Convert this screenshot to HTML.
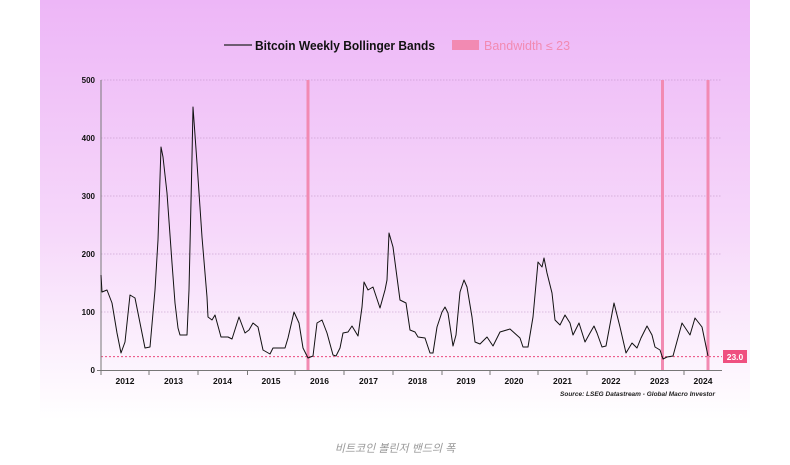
<!DOCTYPE html>
<html><head><meta charset="utf-8"><style>
html,body{margin:0;padding:0;width:790px;height:465px;background:#fff;overflow:hidden}
</style></head><body>
<svg width="790" height="465" xmlns="http://www.w3.org/2000/svg" font-family="Liberation Sans, sans-serif">
<defs><linearGradient id="bg" x1="0" y1="0" x2="0" y2="1">
<stop offset="0" stop-color="#edb6f7"/><stop offset="0.55" stop-color="#f6d8fa"/><stop offset="1" stop-color="#ffffff"/></linearGradient></defs>
<rect x="0" y="0" width="790" height="465" fill="#fff"/>
<rect x="40" y="0" width="710" height="420" fill="url(#bg)"/>
<!-- legend -->
<line x1="224" y1="45" x2="252" y2="45" stroke="#222" stroke-width="1.2"/>
<text x="255" y="50" font-size="12.5" font-weight="bold" fill="#111" textLength="180" lengthAdjust="spacingAndGlyphs">Bitcoin Weekly Bollinger Bands</text>
<rect x="452" y="40" width="27" height="10" fill="#f28ab2"/>
<text x="484" y="50" font-size="12.5" fill="#f28ab2">Bandwidth ≤ 23</text>
<!-- grid -->
<g stroke="#b88cc0" stroke-width="0.6" stroke-dasharray="1.5,1.5">
<line x1="101" y1="80" x2="722" y2="80"/><line x1="101" y1="138" x2="722" y2="138"/>
<line x1="101" y1="196" x2="722" y2="196"/><line x1="101" y1="254" x2="722" y2="254"/>
<line x1="101" y1="312" x2="722" y2="312"/></g>
<g font-size="8" font-weight="bold" fill="#111" text-anchor="end">
<text x="95" y="83">500</text><text x="95" y="141">400</text><text x="95" y="199">300</text>
<text x="95" y="257">200</text><text x="95" y="315">100</text><text x="95" y="373">0</text></g>
<!-- bands -->
<g fill="#f28ab2"><rect x="306.5" y="80" width="3" height="290"/><rect x="661" y="80" width="3" height="290"/><rect x="706.5" y="80" width="3" height="290"/></g>
<line x1="101" y1="356.7" x2="722" y2="356.7" stroke="#e8306a" stroke-width="0.8" stroke-dasharray="2,2"/>
<rect x="723" y="350" width="24" height="13" fill="#ef4f80"/>
<text x="735" y="360" font-size="8.5" font-weight="bold" fill="#fff" text-anchor="middle">23.0</text>
<!-- axes -->
<line x1="101" y1="80" x2="101" y2="371" stroke="#777" stroke-width="1"/>
<line x1="97" y1="370.5" x2="722" y2="370.5" stroke="#777" stroke-width="1"/>
<g stroke="#777"><line x1="101" y1="370" x2="101" y2="375"/><line x1="149" y1="370" x2="149" y2="375"/><line x1="198" y1="370" x2="198" y2="375"/><line x1="247.5" y1="370" x2="247.5" y2="375"/><line x1="295" y1="370" x2="295" y2="375"/><line x1="344" y1="370" x2="344" y2="375"/><line x1="393" y1="370" x2="393" y2="375"/><line x1="442" y1="370" x2="442" y2="375"/><line x1="490" y1="370" x2="490" y2="375"/><line x1="538" y1="370" x2="538" y2="375"/><line x1="587" y1="370" x2="587" y2="375"/><line x1="635" y1="370" x2="635" y2="375"/><line x1="684" y1="370" x2="684" y2="375"/></g>
<g font-size="8.5" font-weight="bold" fill="#111" text-anchor="middle">
<text x="125" y="384">2012</text><text x="173.5" y="384">2013</text><text x="222.5" y="384">2014</text><text x="271" y="384">2015</text><text x="319.5" y="384">2016</text><text x="368.5" y="384">2017</text><text x="417.5" y="384">2018</text><text x="466" y="384">2019</text><text x="514" y="384">2020</text><text x="562.5" y="384">2021</text><text x="611" y="384">2022</text><text x="659.5" y="384">2023</text><text x="703" y="384">2024</text></g>
<text x="715" y="396" font-size="6.5" font-weight="bold" font-style="italic" fill="#222" text-anchor="end">Source: LSEG Datastream - Global Macro Investor</text>
<polyline fill="none" stroke="#111" stroke-width="1" stroke-linejoin="round" points="101,275 102,292 107,290 112,303 117,333 121,353 125,342 130,295 135,298 140,323 145,348 150,347 155,290 158,240 161,147 163,157 167,193 172,263 175,303 178,328 180,335 187,335 189,290 192,157 193,107 197,163 202,237 207,297 208,317 212,320 215,315 221,337 228,337 232,339 239,317 245,333 249,330 253,323 258,327 263,350 270,354 273,348 285,348 288,338 294,312 299,323 303,348 308,358 313,356 317,323 322,320 327,333 333,355 336,356 340,348 343,333 348,332 352,326 358,336 362,307 364,282 368,290 373,287 380,308 385,290 387,280 389,233 393,247 400,300 406,303 410,330 415,332 418,337 425,338 430,353 433,353 437,327 442,312 445,307 448,313 453,346 456,335 460,292 464,280 467,287 472,317 475,342 480,344 487,337 493,346 500,332 510,329 520,338 523,347 528,347 533,317 538,262 542,267 544,258 547,273 552,293 555,320 560,325 565,315 570,323 573,335 579,323 585,342 590,333 594,326 597,333 602,347 606,346 614,303 620,327 626,353 632,343 637,348 641,338 647,326 652,335 655,347 660,350 663,359 667,357 673,356 682,323 690,335 695,318 702,327 708,356"/>
<text x="395" y="452" font-size="11" font-style="italic" fill="#999" text-anchor="middle" font-family="Liberation Sans, Noto Sans CJK KR, sans-serif">비트코인 볼린저 밴드의 폭</text>
</svg>
</body></html>
